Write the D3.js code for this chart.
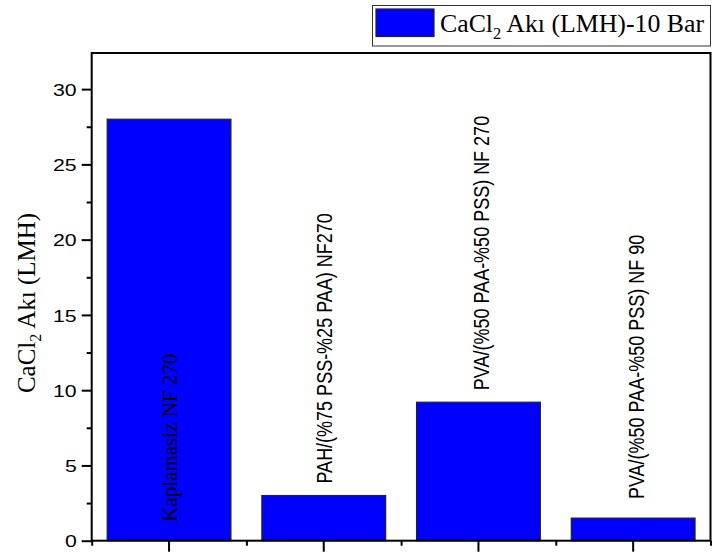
<!DOCTYPE html>
<html>
<head>
<meta charset="utf-8">
<script src="https://cdn.jsdelivr.net/npm/d3@7/dist/d3.min.js"></script>
<style>
  body { margin: 0; background: #fff; }
  svg { display: block; }
</style>
</head>
<body>
<svg id="chart" width="713" height="555"></svg>
<script>
// Membrane samples and their CaCl2 flux at 10 bar (LMH)
const categories = [
  "Kaplamasiz NF 270",
  "PAH/(%75 PSS-%25 PAA) NF270",
  "PVA/(%50 PAA-%50 PSS) NF 270",
  "PVA/(%50 PAA-%50 PSS) NF 90"
];
const fluxValues = [28.0, 3.0, 9.2, 1.5];
const yTickValues = [0, 5, 10, 15, 20, 25, 30];
const yMinorTickValues = [2.5, 7.5, 12.5, 17.5, 22.5, 27.5];
const legendParts = ["CaCl", "2", " Akı (LMH)-10 Bar"];
const yTitleParts = ["CaCl", "2", " Akı (LMH)"];

const data = categories.map((c, i) => ({ name: c, value: fluxValues[i] }));

const svg = d3.select("#chart");
const plot = { left: 91.7, right: 710.5, top: 53, bottom: 540.7 };

const x = d3.scaleBand()
  .domain(categories)
  .range([plot.left, plot.right])
  .paddingInner(0.2)
  .paddingOuter(0.1);

const xEdges = d3.scaleLinear()
  .domain([0, categories.length])
  .range([plot.left, plot.right]);

const y = d3.scaleLinear()
  .domain([0, 32.4])
  .range([plot.bottom, plot.top]);

const serif = "'Liberation Serif', 'Times New Roman', serif";
const sans = "'Liberation Sans', Arial, sans-serif";

// Bars
svg.append("g")
  .selectAll("rect")
  .data(data)
  .join("rect")
  .attr("x", d => x(d.name))
  .attr("y", d => y(d.value))
  .attr("width", x.bandwidth())
  .attr("height", d => y(0) - y(d.value))
  .attr("fill", "#0000ff")
  .attr("stroke", "#222")
  .attr("stroke-width", 1.2);

// Sample names: inside the tall bar, above the short ones
const labels = svg.append("g");
data.forEach((d, i) => {
  const cx = x(d.name) + x.bandwidth() / 2;
  if (i === 0) {
    labels.append("text")
      .attr("transform", `translate(${cx + 7.5},${y(0) - 19}) rotate(-90)`)
      .attr("font-family", serif)
      .attr("font-size", 21)
      .attr("fill", "#000")
      .text(d.name);
  } else {
    const gap = i === 3 ? 19 : 12;
    const shift = i === 1 ? 8 : 11;
    labels.append("text")
      .attr("transform", `translate(${cx + shift},${y(d.value) - gap}) scale(1.2,1) rotate(-90)`)
      .attr("font-family", sans)
      .attr("font-size", 18)
      .attr("fill", "#000")
      .text(d.name);
  }
});

// Y axis: major ticks with labels, minor ticks without
const yAxis = svg.append("g")
  .attr("transform", `translate(${plot.left},0)`)
  .call(d3.axisLeft(y).tickValues(yTickValues).tickSize(10).tickFormat(d3.format("d")));
yAxis.select(".domain").remove();
yAxis.selectAll(".tick line").attr("stroke", "#000").attr("stroke-width", 2);
yAxis.selectAll(".tick text")
  .attr("x", 0)
  .attr("dy", "0.36em")
  .attr("transform", "translate(-15,0) scale(1.25,1)")
  .attr("font-family", sans)
  .attr("font-size", 17)
  .attr("fill", "#000");

const yMinor = svg.append("g")
  .attr("transform", `translate(${plot.left},0)`)
  .call(d3.axisLeft(y).tickValues(yMinorTickValues).tickSize(5).tickFormat(""));
yMinor.select(".domain").remove();
yMinor.selectAll(".tick line").attr("stroke", "#000").attr("stroke-width", 2);

// X axis: major ticks at bar centres, minor ticks at group edges
const xAxis = svg.append("g")
  .attr("transform", `translate(0,${plot.bottom})`)
  .call(d3.axisBottom(x).tickSize(11).tickFormat(""));
xAxis.select(".domain").remove();
xAxis.selectAll(".tick line").attr("stroke", "#000").attr("stroke-width", 2);

const xMinor = svg.append("g")
  .attr("transform", `translate(0,${plot.bottom})`)
  .call(d3.axisBottom(xEdges).tickValues(d3.range(categories.length + 1)).tickSize(5).tickFormat(""));
xMinor.select(".domain").remove();
xMinor.selectAll(".tick line").attr("stroke", "#000").attr("stroke-width", 2);

// Plot frame
svg.append("rect")
  .attr("x", plot.left)
  .attr("y", plot.top)
  .attr("width", plot.right - plot.left)
  .attr("height", plot.bottom - plot.top)
  .attr("fill", "none")
  .attr("stroke", "#000")
  .attr("stroke-width", 2);

// Y axis title
const yTitle = svg.append("text")
  .attr("transform", `translate(35,303) rotate(-90)`)
  .attr("text-anchor", "middle")
  .attr("font-family", serif)
  .attr("font-size", 25)
  .attr("fill", "#000");
yTitle.append("tspan").text(yTitleParts[0]);
yTitle.append("tspan").attr("dy", 6).attr("font-size", 16).text(yTitleParts[1]);
yTitle.append("tspan").attr("dy", -6).text(yTitleParts[2]);

// Legend
const legend = svg.append("g");
legend.append("rect")
  .attr("x", 372.5).attr("y", 5.5)
  .attr("width", 338).attr("height", 40.5)
  .attr("fill", "#fff")
  .attr("stroke", "#333")
  .attr("stroke-width", 1);
legend.append("rect")
  .attr("x", 376).attr("y", 9)
  .attr("width", 58).attr("height", 27.5)
  .attr("fill", "#0000ff")
  .attr("stroke", "#222")
  .attr("stroke-width", 1.2);
const legendText = legend.append("text")
  .attr("x", 440).attr("y", 32)
  .attr("font-family", serif)
  .attr("font-size", 25.8)
  .attr("fill", "#000");
legendText.append("tspan").text(legendParts[0]);
legendText.append("tspan").attr("dy", 7).attr("font-size", 16.5).text(legendParts[1]);
legendText.append("tspan").attr("dy", -7).text(legendParts[2]);
</script>
</body>
</html>
